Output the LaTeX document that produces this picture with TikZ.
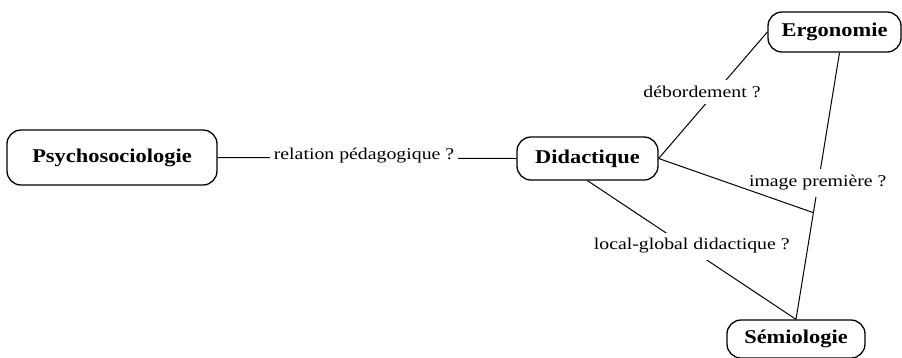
\documentclass[tikz,border=0pt]{standalone}
\usepackage{fontspec}
\setmainfont{Liberation Serif}
\newfontfamily\themefont[FakeStretch=1.15]{Liberation Serif}
\newfontfamily\askfont[FakeStretch=1.2]{Liberation Serif}
\usetikzlibrary{positioning}
\tikzset{theme/.style={draw, line width=1.3pt, rounded corners=14pt, inner sep=0pt, font=\themefont\bfseries\fontsize{19.5}{21}\selectfont}}
\tikzset{question/.style={fill=white, inner xsep=4pt, inner ysep=6pt, font=\askfont\fontsize{16.5}{18}\selectfont}}

\begin{document}
\begin{tikzpicture}[x=1pt, y=-1pt, line width=1pt]
\useasboundingbox (0,0) rectangle (902,357);
\node[theme, minimum width=210pt, minimum height=55pt] (psy) at (112,157.5) {Psychosociologie};
\node[theme, minimum width=141pt, minimum height=43pt] (did) at (587.5,158.5) {Didactique};
\node[theme, minimum width=133pt, minimum height=40pt] (ergo) at (834.5,32) {Ergonomie};
\node[theme, minimum width=138pt, minimum height=38pt] (semio) at (796,339) {Sémiologie};
\draw (psy.east) edge node[question, xshift=-3pt, yshift=2pt] (rel) {relation pédagogique ?} (did.west);
\draw (did.east) edge node[question, xshift=-11pt, yshift=3pt] (deb) {débordement ?} (ergo.west);
\draw ([xshift=5pt]ergo.south) -- node[question, yshift=3pt] (img) {image première ?} coordinate[pos=0.6] (j) (semio.north);
\draw (did.east) -- (j);
\draw (did.south) -- node[question, yshift=4pt] (loc) {local-global didactique ?} (semio.north);
\end{tikzpicture}
\end{document}
